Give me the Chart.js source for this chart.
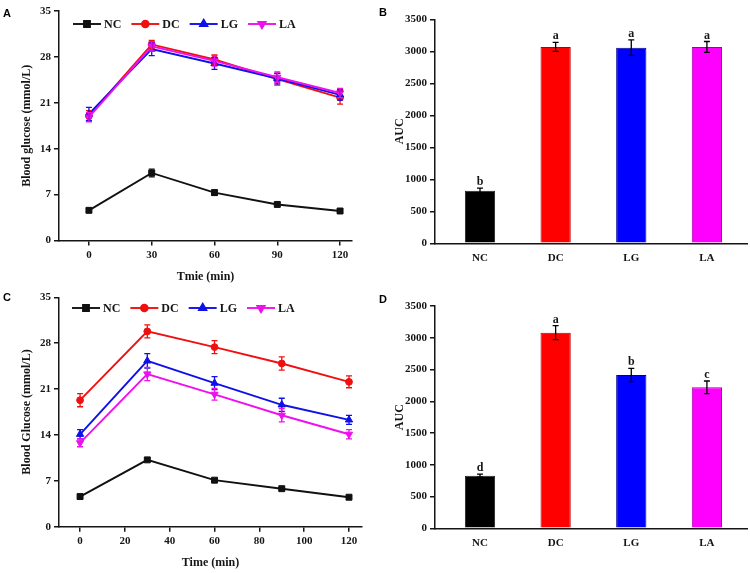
<!DOCTYPE html>
<html><head><meta charset="utf-8">
<script src="https://cdn.jsdelivr.net/npm/chart.js@4.4.0/dist/chart.umd.min.js"></script>
<style>
html,body{margin:0;padding:0;background:#fff;}
#wrap{position:relative;width:750px;height:573px;overflow:hidden;background:#fff;}
canvas{position:absolute;}
.lab{position:absolute;font:bold 11px "Liberation Sans",Arial,sans-serif;line-height:11px;color:#000;}
</style></head><body>
<div id="wrap">
<canvas id="cA" width="375" height="287" style="left:0;top:0"></canvas>
<canvas id="cB" width="375" height="287" style="left:375px;top:0"></canvas>
<canvas id="cC" width="375" height="286" style="left:0;top:287px"></canvas>
<canvas id="cD" width="375" height="286" style="left:375px;top:287px"></canvas>
<div class="lab" style="left:3px;top:8px">A</div>
<div class="lab" style="left:379px;top:7px">B</div>
<div class="lab" style="left:3px;top:292px">C</div>
<div class="lab" style="left:379px;top:294px">D</div>
</div>
<script>
// ---------- data ----------
const groups = ['NC', 'DC', 'LG', 'LA'];
const timePoints = [0, 30, 60, 90, 120];
const xTicksA = [0, 30, 60, 90, 120];
const xTicksC = [0, 20, 40, 60, 80, 100, 120];
const yTicksGlucose = [0, 7, 14, 21, 28, 35];
const yTicksAUC = [0, 500, 1000, 1500, 2000, 2500, 3000, 3500];

// Panel A (blood glucose, mmol/L)
const glucoseA_NC = [4.6, 10.3, 7.3, 5.5, 4.5];
const glucoseA_DC = [19.0, 29.9, 27.6, 24.6, 21.8];
const glucoseA_LG = [19.3, 29.2, 27.0, 24.7, 22.2];
const glucoseA_LA = [18.8, 29.6, 27.4, 24.9, 22.5];
const errA_NC = [0.25, 0.6, 0.4, 0.3, 0.25];
const errA_DC = [0.8, 0.6, 0.7, 0.9, 1.0];
const errA_LG = [1.0, 1.0, 0.9, 0.8, 0.8];
const errA_LA = [0.7, 0.7, 0.8, 0.8, 0.7];

// Panel C (blood glucose, mmol/L)
const glucoseC_NC = [4.6, 10.2, 7.1, 5.8, 4.5];
const glucoseC_DC = [19.3, 29.8, 27.4, 24.9, 22.1];
const glucoseC_LG = [14.1, 25.3, 21.9, 18.6, 16.3];
const glucoseC_LA = [12.8, 23.3, 20.2, 17.0, 14.1];
const errC_NC = [0.2, 0.25, 0.2, 0.2, 0.2];
const errC_DC = [1.0, 1.0, 1.0, 1.0, 0.9];
const errC_LG = [0.7, 1.1, 1.0, 1.0, 0.7];
const errC_LA = [0.6, 1.0, 0.9, 1.0, 0.7];

// Panel B (AUC)
const aucB = [823, 3068, 3057, 3068];
const aucB_err = [40, 70, 120, 85];
const aucB_letters = ['b', 'a', 'a', 'a'];
// Panel D (AUC)
const aucD = [829, 3080, 2413, 2219];
const aucD_err = [25, 110, 105, 100];
const aucD_letters = ['d', 'a', 'b', 'c'];

// ---------- styles ----------
const SERIF = '"Liberation Serif","Times New Roman",Times,serif';
const tickFont = { family: SERIF, size: 11, weight: 'bold' };
const titleFont = { family: SERIF, size: 12, weight: 'bold' };
const INK = '#151515';
const seriesStyle = {
  NC: { color: '#111111', pointStyle: 'rect', radius: 4.2, rotation: 0 },
  DC: { color: '#f01010', pointStyle: 'circle', radius: 3.4, rotation: 0 },
  LG: { color: '#1010e8', pointStyle: 'triangle', radius: 4.2, rotation: 0 },
  LA: { color: '#ee10ee', pointStyle: 'triangle', radius: 4.2, rotation: 180 }
};
const barFill = ['#000000', '#ff0000', '#0000ff', '#ff00ff'];
const barEdge = ['#222222', '#b00000', '#000090', '#a000a0'];

Chart.defaults.devicePixelRatio = 1;

// ---------- plugins ----------
const errorBars = {
  id: 'errorBars',
  afterDatasetsDraw(chart, args, opts) {
    const ctx = chart.ctx, ys = chart.scales.y;
    chart.data.datasets.forEach((ds, di) => {
      if (!ds.errors) return;
      const meta = chart.getDatasetMeta(di);
      ctx.save();
      ctx.lineWidth = opts.lineWidth || 1.2;
      meta.data.forEach((el, i) => {
        const raw = ds.data[i];
        const v = (typeof raw === 'object') ? raw.y : raw;
        const e = ds.errors[i];
        const x = el.x;
        const yTop = ys.getPixelForValue(v + e);
        const yBot = ys.getPixelForValue(v - e);
        const c = opts.cap || 3;
        ctx.strokeStyle = ds.errorColor || ds.borderColor;
        ctx.beginPath();
        ctx.moveTo(x, yTop); ctx.lineTo(x, yBot);
        ctx.moveTo(x - c, yTop); ctx.lineTo(x + c, yTop);
        ctx.moveTo(x - c, yBot); ctx.lineTo(x + c, yBot);
        ctx.stroke();
        if (ds.letters) {
          ctx.fillStyle = INK;
          ctx.font = 'bold 12px ' + SERIF;
          ctx.textAlign = 'center';
          ctx.textBaseline = 'alphabetic';
          ctx.fillText(ds.letters[i], x, yTop - 3);
        }
      });
      ctx.restore();
    });
  }
};

const lineLegend = {
  id: 'lineLegend',
  afterDraw(chart, args, opts) {
    if (!opts || !opts.display) return;
    const ctx = chart.ctx;
    let x = opts.x; const y = opts.y;
    ctx.save();
    ctx.font = 'bold 12px ' + SERIF;
    ctx.textBaseline = 'middle';
    ctx.textAlign = 'left';
    chart.data.datasets.forEach(ds => {
      ctx.strokeStyle = ds.borderColor; ctx.lineWidth = ds.borderWidth;
      ctx.beginPath(); ctx.moveTo(x, y); ctx.lineTo(x + opts.lineLen, y); ctx.stroke();
      ctx.fillStyle = ds.pointBackgroundColor; ctx.strokeStyle = ds.pointBorderColor;
      Chart.helpers.drawPoint(ctx, { pointStyle: ds.pointStyle, rotation: ds.pointRotation || 0,
        radius: ds.pointRadius, borderWidth: 1 }, x + opts.lineLen / 2, y);
      x += opts.lineLen + opts.textGap;
      ctx.fillStyle = INK;
      ctx.fillText(ds.label, x, y + 0.5);
      x += ctx.measureText(ds.label).width + opts.itemGap;
    });
    ctx.restore();
  }
};

// ---------- builders ----------
function axisCommon() {
  return {
    grid: { drawOnChartArea: false, drawTicks: true, tickLength: 5, color: INK, lineWidth: 1.5 },
    border: { display: true, color: INK, width: 1.5 },
    ticks: { font: tickFont, color: INK, padding: 3, maxRotation: 0, autoSkip: false }
  };
}

function makeLineChart(id, series, errs, xTicks, xMin, xMax, xTitle, yTitle, geo, legendPos) {
  const orders = { NC: 4, DC: 3, LG: 2, LA: 1 };
  const datasets = groups.map((g, gi) => {
    const st = seriesStyle[g];
    return {
      label: g,
      data: series[gi].map((v, i) => ({ x: timePoints[i], y: v })),
      errors: errs[gi],
      borderColor: st.color, backgroundColor: st.color,
      pointBackgroundColor: st.color, pointBorderColor: st.color,
      pointStyle: st.pointStyle, pointRotation: st.rotation, pointRadius: st.radius,
      pointBorderWidth: 1, borderWidth: 1.9, tension: 0, order: orders[g]
    };
  });
  const xa = axisCommon(), ya = axisCommon();
  return new Chart(document.getElementById(id), {
    type: 'line',
    data: { datasets },
    options: {
      responsive: false, animation: false, events: [],
      layout: { padding: geo.padding },
      plugins: { legend: { display: false }, tooltip: { enabled: false },
        errorBars: { cap: 3, lineWidth: 1.3 },
        lineLegend: Object.assign({ display: true, lineLen: 28, textGap: 3, itemGap: 10 }, legendPos) },
      scales: {
        x: Object.assign(xa, {
          type: 'linear', min: xMin, max: xMax,
          afterBuildTicks: s => { s.ticks = xTicks.map(v => ({ value: v })); },
          afterFit: s => { s.height = geo.xH; },
          title: { display: true, text: xTitle, font: titleFont, color: INK, padding: { top: 0, bottom: 3 } }
        }),
        y: Object.assign(ya, {
          type: 'linear', min: 0, max: 35,
          afterBuildTicks: s => { s.ticks = yTicksGlucose.map(v => ({ value: v })); },
          afterFit: s => { s.width = geo.yW; },
          title: { display: true, text: yTitle, font: titleFont, color: INK, padding: { top: 20, bottom: 0 } }
        })
      }
    },
    plugins: [errorBars, lineLegend]
  });
}

function makeBarChart(id, values, errs, letters, geo) {
  const xa = axisCommon(), ya = axisCommon();
  xa.grid = { display: false, drawTicks: false, offset: false };
  xa.ticks.padding = 8;
  xa.ticks.callback = v => groups[v];
  ya.ticks.callback = v => String(v);
  return new Chart(document.getElementById(id), {
    type: 'bar',
    data: { datasets: [{
      label: 'AUC',
      data: values.map((v, i) => ({ x: i, y: v })),
      errors: errs, letters: letters, errorColor: '#000',
      backgroundColor: barFill, borderColor: barEdge, borderWidth: 1,
      barPercentage: 0.4, categoryPercentage: 1
    }] },
    options: {
      responsive: false, animation: false, events: [],
      layout: { padding: geo.padding },
      plugins: { legend: { display: false }, tooltip: { enabled: false },
        errorBars: { cap: 3, lineWidth: 1.3 } },
      scales: {
        x: Object.assign(xa, {
          type: 'linear', min: -0.595, max: 3.53, offset: false,
          afterBuildTicks: s => { s.ticks = groups.map((g, i) => ({ value: i })); },
          afterFit: s => { s.height = geo.xH; }
        }),
        y: Object.assign(ya, {
          type: 'linear', min: 0, max: 3500,
          afterBuildTicks: s => { s.ticks = yTicksAUC.map(v => ({ value: v })); },
          afterFit: s => { s.width = geo.yW; },
          title: { display: true, text: 'AUC', font: titleFont, color: INK, padding: { top: 18, bottom: 0 } }
        })
      }
    },
    plugins: [errorBars]
  });
}

makeLineChart('cA',
  [glucoseA_NC, glucoseA_DC, glucoseA_LG, glucoseA_LA],
  [errA_NC, errA_DC, errA_LG, errA_LA],
  xTicksA, -14.3, 125.7, 'Tmie (min)', 'Blood glucose (mmol/L)',
  { padding: { left: 0, right: 23, top: 11, bottom: 0 }, xH: 46.5, yW: 59 },
  { x: 73, y: 24 });

makeLineChart('cC',
  [glucoseC_NC, glucoseC_DC, glucoseC_LG, glucoseC_LA],
  [errC_NC, errC_DC, errC_LG, errC_LA],
  xTicksC, -9.4, 125.8, 'Time (min)', 'Blood Glucose (mmol/L)',
  { padding: { left: 0, right: 13, top: 10.3, bottom: 0 }, xH: 46.3, yW: 59 },
  { x: 72, y: 21 });

makeBarChart('cB', aucB, aucB_err, aucB_letters,
  { padding: { left: 0, right: 3, top: 19.3, bottom: 0 }, xH: 43.7, yW: 60 });
makeBarChart('cD', aucD, aucD_err, aucD_letters,
  { padding: { left: 0, right: 3, top: 19, bottom: 0 }, xH: 44.7, yW: 60 });
</script>
</body></html>
